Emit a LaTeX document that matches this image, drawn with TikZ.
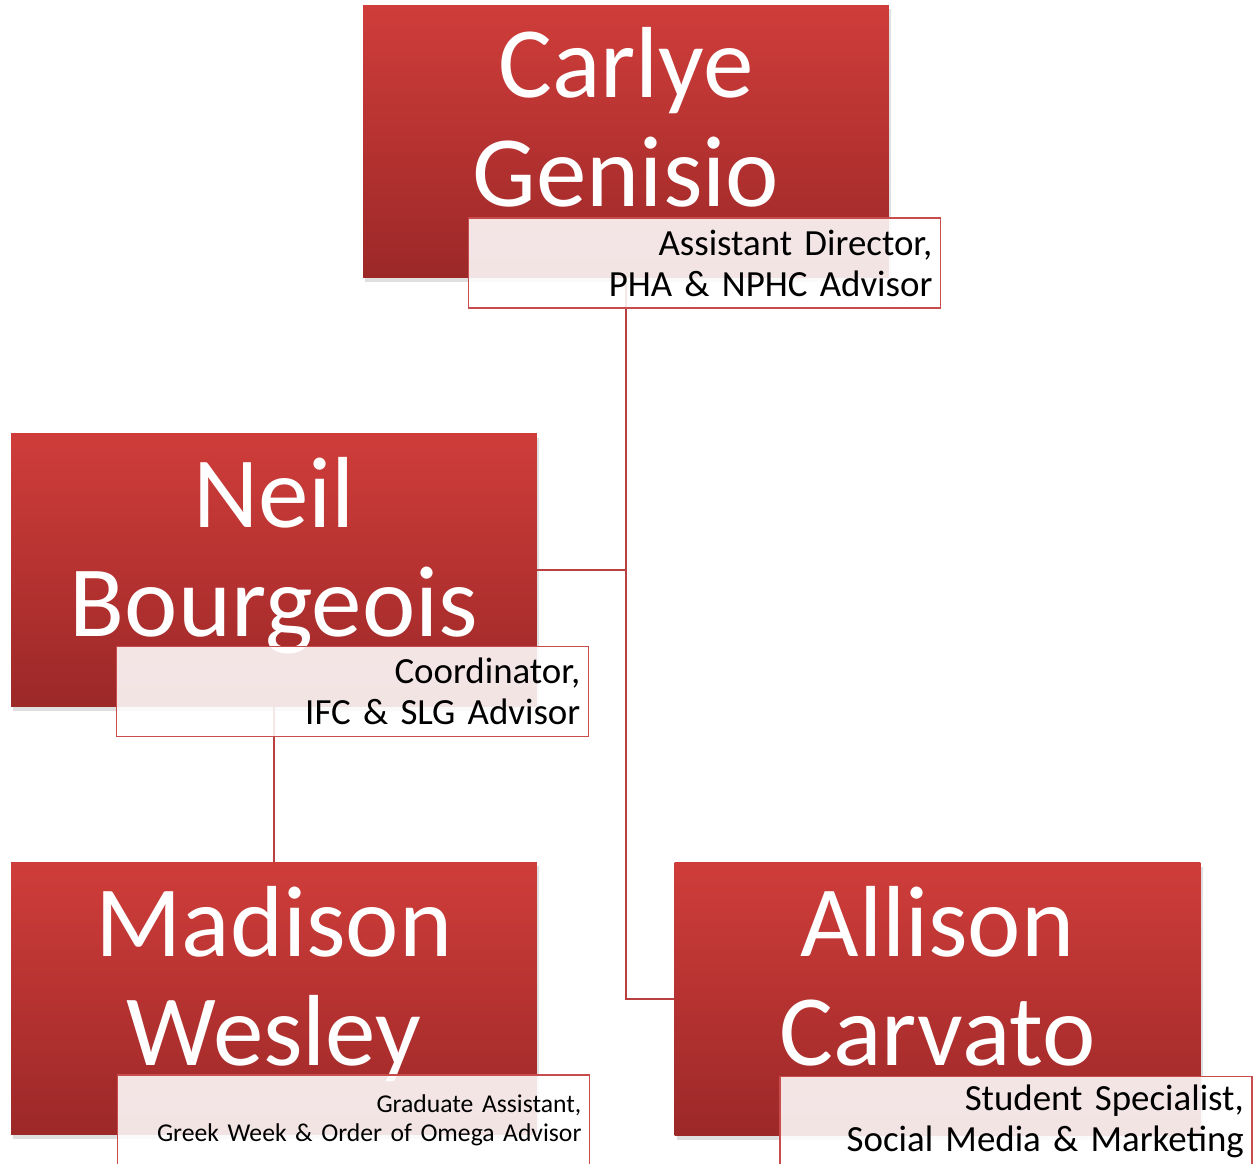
\documentclass[tikz,border=0pt]{standalone}
\usepackage{fontspec}
\setmainfont{Carlito}
\usetikzlibrary{shadows}

\definecolor{boxtop}{RGB}{207,61,58}
\definecolor{boxbottom}{RGB}{156,40,40}
\definecolor{rimred}{RGB}{201,76,76}
\definecolor{linkred}{RGB}{184,64,64}

\begin{document}
\begin{tikzpicture}[
    x=0.02cm, y=-0.02cm,
    person/.style={rectangle, minimum width=10.52cm, minimum height=5.46cm,
      inner sep=0pt, top color=boxtop, bottom color=boxbottom,
      drop shadow={shadow xshift=1.2pt, shadow yshift=-2.4pt, opacity=0.25}},
    nametext/.style={anchor=base, align=center, text=white, inner sep=0pt,
      font=\fontsize{57.5}{62}\selectfont},
    rolebox/.style={rectangle, anchor=north west, draw=rimred, line width=0.9pt,
      fill=white, fill opacity=0.88, text opacity=1, text=black,
      minimum width=9.44cm, minimum height=1.8cm, inner xsep=0.16cm,
      text width=9.12cm, align=right, font=\fontsize{21}{23.2}\selectfont},
    link/.style={draw=linkred, line width=1pt}
  ]
  \useasboundingbox (0,0) rectangle (1257,1163);
  % staff boxes
  \node (carlye) [person] at (626,141.5) {};
  \node (neil) [person] at (274,570) {};
  \node (madison) [person] at (274,998.5) {};
  \node (allison) [person] at (937.5,999) {};
  % reporting lines
  \draw [link] (carlye.south) |- (neil.east);
  \draw [link] (carlye.south) |- (allison.west);
  \draw [link] (neil.south) -- (madison.north);
  % names (base = last line)
  \node (carlyeName) [nametext] at ([yshift=-4.04cm]carlye.north) {Carlye\\Genisio};
  \node (neilName) [nametext] at ([yshift=-4.06cm]neil.north) {Neil\\Bourgeois};
  \node (madisonName) [nametext] at ([yshift=-4.08cm]madison.north) {Madison\\Wesley};
  \node (allisonName) [nametext] at ([yshift=-4.06cm]allison.north) {Allison\\Carvato};
  % job titles
  \node (carlyeRole) [rolebox] at ([xshift=2.1cm, yshift=1.22cm]carlye.south west)
    {Assistant Director,\\PHA \& NPHC Advisor};
  \node (neilRole) [rolebox] at ([xshift=2.1cm, yshift=1.22cm]neil.south west)
    {Coordinator,\\IFC \& SLG Advisor};
  \node (madisonRole) [rolebox, font=\fontsize{14.6}{16.4}\selectfont]
    at ([xshift=2.12cm, yshift=1.22cm]madison.south west)
    {Graduate Assistant,\\Greek Week \& Order of Omega Advisor};
  \node (allisonRole) [rolebox] at ([xshift=2.1cm, yshift=1.2cm]allison.south west)
    {Student Specialist,\\Social Media \& Marketing};
\end{tikzpicture}
\end{document}
